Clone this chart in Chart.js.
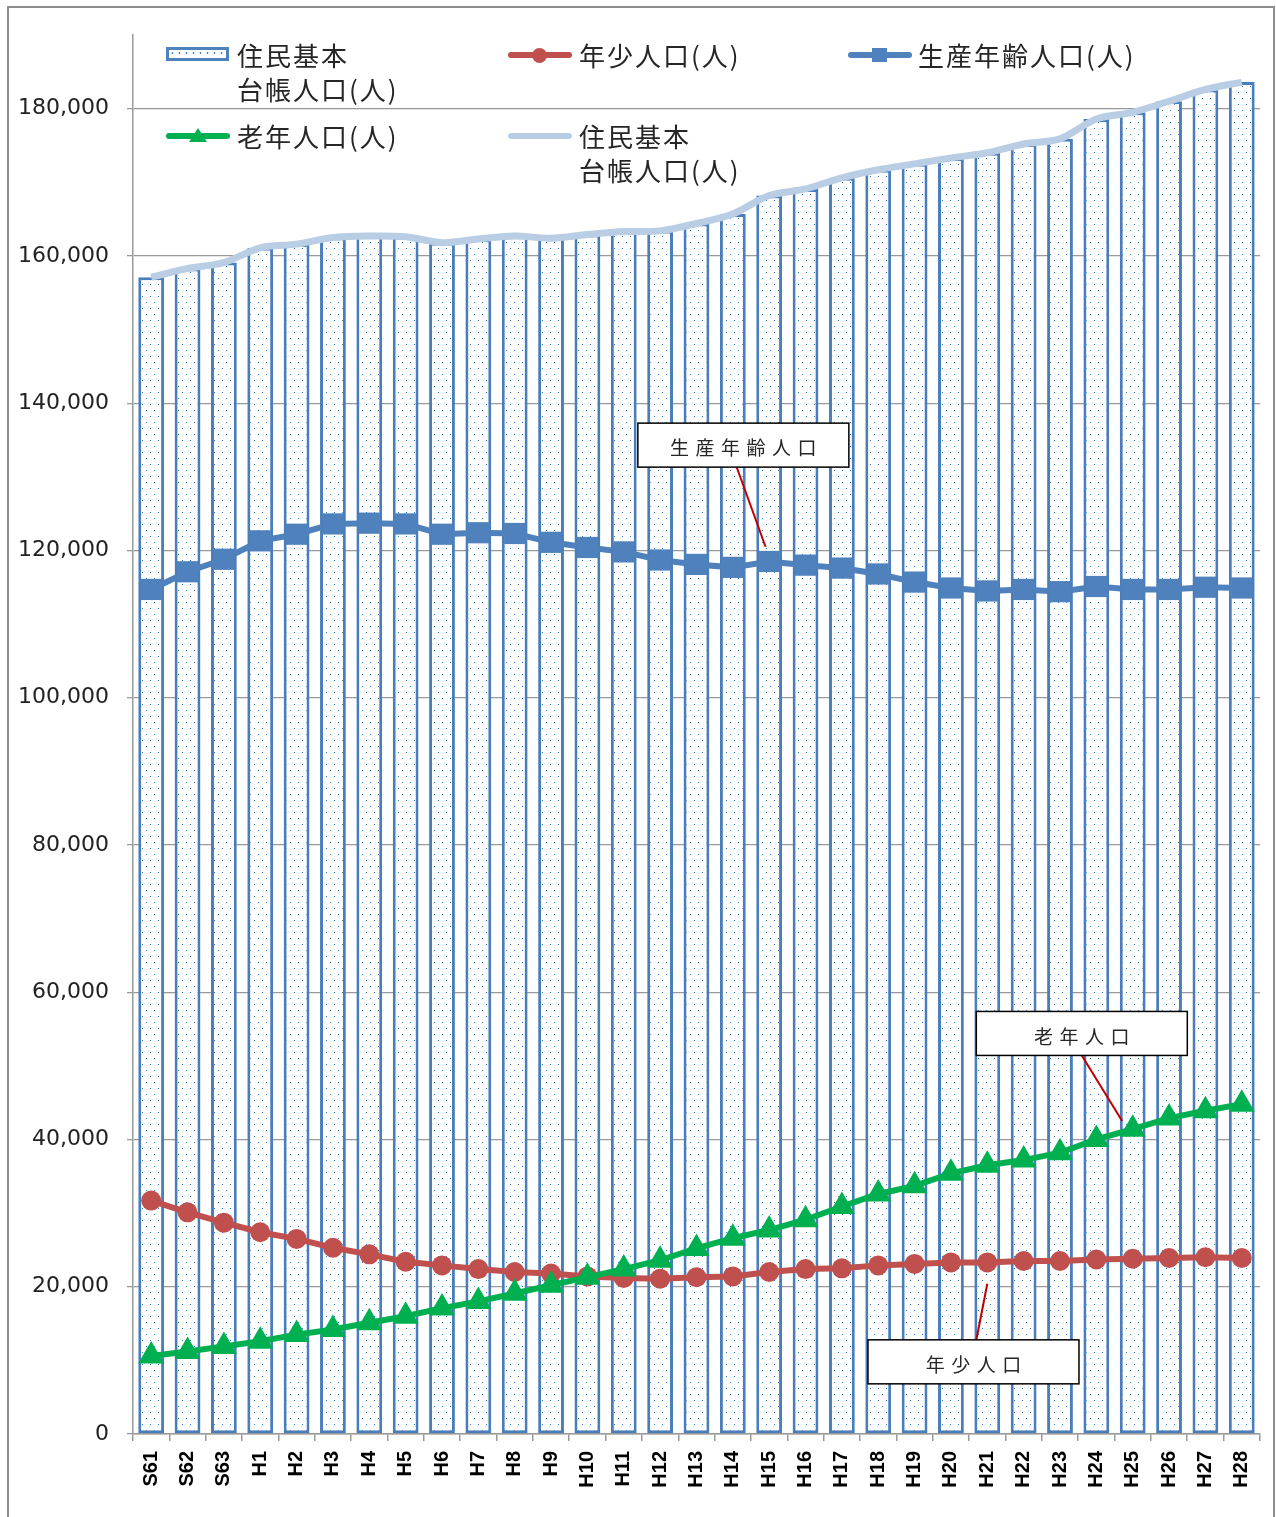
<!DOCTYPE html>
<html lang="ja">
<head>
<meta charset="utf-8">
<title>人口の推移</title>
<script src="https://cdn.jsdelivr.net/npm/chart.js@4.4.1/dist/chart.umd.min.js"></script>
<style>
  body { margin: 0; background: #fff; }
  #wrap { position: relative; width: 1276px; height: 1517px; overflow: hidden; }
  #frame { position: absolute; left: 7px; top: 6px; width: 1264px; height: 1540px; border: 2px solid #8c8c8c; pointer-events: none; }
  .lg { position: absolute; font-family: "Noto Sans CJK JP", sans-serif; font-size: 26px; line-height: 34px; color: #262626; letter-spacing: 2px; white-space: nowrap; }
  .ico { position: absolute; }
  .bar-ico { width: 57px; height: 8px; border: 3px solid #4F81BD; background-color: #fff;
    background-image: radial-gradient(circle, #3c87d0 0.8px, transparent 1.2px); background-size: 7px 6px; }
  .line-ico { width: 64px; height: 6px; border-radius: 3px; }
  .mk { position: absolute; }
</style>
</head>
<body>
<div id="wrap">
  <canvas id="chart" width="1276" height="1517"></canvas>

  <!-- 凡例 -->
  <div class="ico bar-ico" style="left:166px; top:47px;"></div>
  <div class="lg" style="left:237px; top:38px;">住民基本<br>台帳人口(人)</div>

  <div class="ico line-ico" style="left:508px; top:52px; background:#C0504D;"></div>
  <div class="mk" style="left:532px; top:48px; width:15px; height:15px; border-radius:50%; background:#C0504D;"></div>
  <div class="lg" style="left:579px; top:38px;">年少人口(人)</div>

  <div class="ico line-ico" style="left:848px; top:52px; background:#4F81BD;"></div>
  <div class="mk" style="left:872px; top:48px; width:15px; height:14px; background:#4F81BD;"></div>
  <div class="lg" style="left:918px; top:38px;">生産年齢人口(人)</div>

  <div class="ico line-ico" style="left:166px; top:133px; background:#00B050;"></div>
  <div class="mk" style="left:189px; top:128px; width:0; height:0; border-left:9px solid transparent; border-right:9px solid transparent; border-bottom:14px solid #00B050;"></div>
  <div class="lg" style="left:237px; top:119px;">老年人口(人)</div>

  <div class="ico line-ico" style="left:508px; top:133px; background:#B9CDE5;"></div>
  <div class="lg" style="left:579px; top:119px;">住民基本<br>台帳人口(人)</div>

  <div id="frame"></div>
</div>

<script>
// 年度
const labels = ['S61', 'S62', 'S63', 'H1', 'H2', 'H3', 'H4', 'H5', 'H6', 'H7', 'H8', 'H9', 'H10',
  'H11', 'H12', 'H13', 'H14', 'H15', 'H16', 'H17', 'H18', 'H19', 'H20', 'H21', 'H22', 'H23',
  'H24', 'H25', 'H26', 'H27', 'H28'];

// 縦軸の目盛
const yTicks = [0, 20000, 40000, 60000, 80000, 100000, 120000, 140000, 160000, 180000];

// 住民基本台帳人口(人)
const totalPop = [157100, 158300, 159100, 161100, 161600, 162500, 162700, 162600, 161800, 162300,
  162700, 162400, 162900, 163300, 163400, 164400, 165700, 168200, 169100, 170600, 171700, 172500,
  173300, 174000, 175200, 175900, 178600, 179500, 181000, 182600, 183600];

// 年少人口(人)
const youngPop = [31700, 30100, 28700, 27400, 26500, 25300, 24400, 23400, 22900, 22400, 22000,
  21800, 21400, 21200, 21100, 21300, 21400, 22000, 22400, 22500, 22900, 23100, 23300, 23300,
  23500, 23500, 23700, 23800, 23900, 24000, 23900];

// 生産年齢人口(人)
const workingPop = [114700, 117100, 118800, 121300, 122200, 123600, 123700, 123600, 122200, 122400,
  122300, 121100, 120400, 119800, 118700, 118100, 117700, 118500, 118000, 117600, 116800, 115700,
  114900, 114500, 114700, 114400, 115100, 114700, 114700, 115000, 114900];

// 老年人口(人)
const elderlyPop = [10600, 11200, 11900, 12600, 13500, 14200, 15100, 16000, 17100, 18000, 19100,
  20200, 21300, 22400, 23600, 25200, 26600, 27700, 29100, 30900, 32600, 33700, 35400, 36500,
  37200, 38200, 40000, 41400, 42900, 43900, 44800];

// 吹き出し（位置はカテゴリ番号と値で指定）
const callouts = [
  { text: '生産年齢人口', at: [16.29, 134300], from: [16.1, 131400], tip: [16.9, 120500] },
  { text: '老年人口', at: [25.6, 54400], from: [25.6, 51400], tip: [26.71, 42500] },
  { text: '年少人口', at: [22.62, 9800], from: [22.7, 12800], tip: [23.0, 20400] },
];

function dotPattern() {
  const c = document.createElement('canvas');
  c.width = 8; c.height = 12;
  const g = c.getContext('2d');
  g.fillStyle = '#fff';
  g.fillRect(0, 0, 8, 12);
  g.fillStyle = '#2f7fd0';
  g.fillRect(2, 2, 1, 1);
  g.fillRect(6, 8, 1, 1);
  return g.createPattern(c, 'repeat');
}

const calloutPlugin = {
  id: 'callouts',
  afterDatasetsDraw(chart) {
    const { ctx, scales: { x, y } } = chart;
    const w = 211, h = 44;
    ctx.save();
    callouts.forEach(c => {
      const cx = x.getPixelForValue(c.at[0]), cy = y.getPixelForValue(c.at[1]);
      // 引出線
      ctx.strokeStyle = '#C00000';
      ctx.lineWidth = 2;
      ctx.beginPath();
      ctx.moveTo(x.getPixelForValue(c.from[0]), y.getPixelForValue(c.from[1]));
      ctx.lineTo(x.getPixelForValue(c.tip[0]), y.getPixelForValue(c.tip[1]));
      ctx.stroke();
      // 箱
      ctx.fillStyle = '#fff';
      ctx.fillRect(cx - w / 2, cy - h / 2, w, h);
      ctx.strokeStyle = '#000';
      ctx.lineWidth = 1.5;
      ctx.strokeRect(cx - w / 2, cy - h / 2, w, h);
      // 文字（字間を空ける）
      ctx.fillStyle = '#262626';
      ctx.font = '19px "Noto Sans CJK JP"';
      ctx.textBaseline = 'middle';
      ctx.textAlign = 'center';
      const step = 25.5;
      const n = c.text.length;
      for (let i = 0; i < n; i++) {
        ctx.fillText(c.text[i], cx + (i - (n - 1) / 2) * step, cy + 3);
      }
    });
    ctx.restore();
  }
};

new Chart(document.getElementById('chart'), {
  data: {
    labels,
    datasets: [
      { type: 'line', label: '老年人口(人)', data: elderlyPop, order: 1,
        borderColor: '#00B050', backgroundColor: '#00B050', borderWidth: 6,
        pointStyle: 'triangle', pointRadius: 15, pointBorderWidth: 0 },
      { type: 'line', label: '年少人口(人)', data: youngPop, order: 2,
        borderColor: '#C0504D', backgroundColor: '#C0504D', borderWidth: 6,
        pointStyle: 'circle', pointRadius: 10, pointBorderWidth: 0 },
      { type: 'line', label: '生産年齢人口(人)', data: workingPop, order: 3,
        borderColor: '#4F81BD', backgroundColor: '#4F81BD', borderWidth: 6,
        pointStyle: 'rect', pointRadius: 15, pointBorderWidth: 0 },
      { type: 'line', label: '住民基本台帳人口(人)', data: totalPop, order: 4,
        borderColor: '#B9CDE5', borderWidth: 7, tension: 0.3, pointRadius: 0 },
      { type: 'bar', label: '住民基本台帳人口(人)', data: totalPop, order: 5,
        backgroundColor: dotPattern(), borderColor: '#4A7EBB', borderWidth: 3,
        borderSkipped: false, categoryPercentage: 1, barPercentage: 0.71 },
    ]
  },
  options: {
    responsive: false,
    animation: false,
    layout: { padding: { left: 0, right: 11, top: 35, bottom: 0 } },
    plugins: { legend: { display: false }, tooltip: { enabled: false } },
    scales: {
      x: {
        offset: true,
        grid: { offset: true, drawOnChartArea: false, drawTicks: true, tickLength: 7, color: '#999', lineWidth: 1.5 },
        border: { color: '#999', width: 1.5 },
        ticks: { autoSkip: false, minRotation: 90, maxRotation: 90, padding: 10, color: '#000',
          font: { family: 'Liberation Sans', size: 20, weight: 'bold' } },
        afterFit(scale) { scale.height = 83; }
      },
      y: {
        min: 0, max: 190000, bounds: 'data',
        grid: { color: '#999', lineWidth: 1.3, tickLength: 6 },
        border: { color: '#999', width: 1.5 },
        ticks: { padding: 18, color: '#222',
          font: { family: 'DejaVu Sans', size: 22 },
          callback: v => v.toLocaleString('en-US') },
        afterBuildTicks(scale) { scale.ticks = yTicks.map(v => ({ value: v })); },
        afterFit(scale) { scale.width = 133; }
      }
    }
  },
  plugins: [calloutPlugin]
});
</script>
</body>
</html>
